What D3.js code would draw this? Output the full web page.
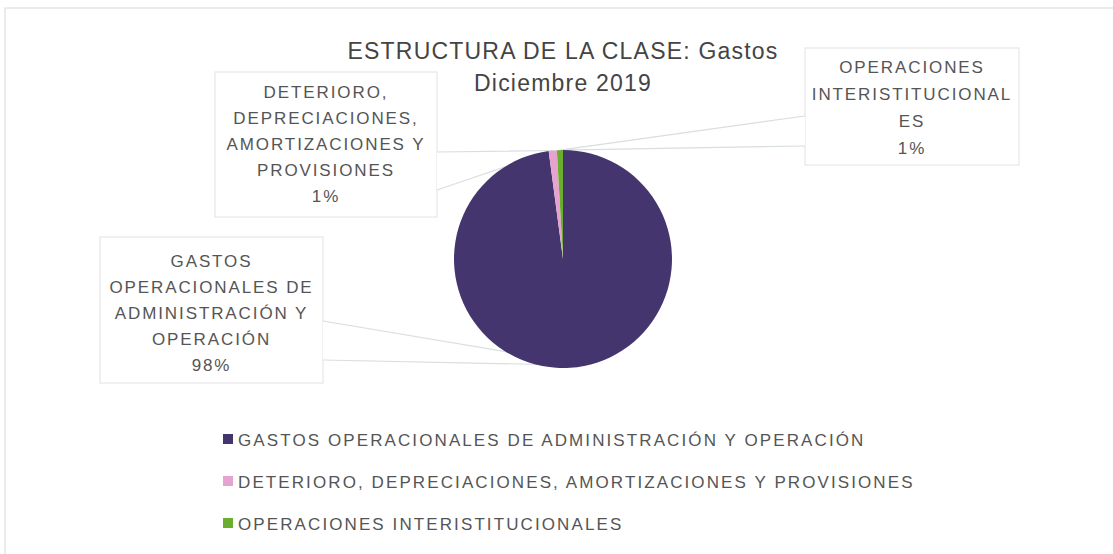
<!DOCTYPE html>
<html>
<head>
<meta charset="utf-8">
<script src="https://cdn.jsdelivr.net/npm/d3@7"></script>
<style>
  body { margin: 0; background: #fff; }
  text { font-family: "Liberation Sans", Arial, sans-serif; fill: #555; }
</style>
</head>
<body>
<svg></svg>
<script>
// canvas size
const w = 1113;
const h = 554;

// chart data
const categories = [
  "GASTOS OPERACIONALES DE ADMINISTRACIÓN Y OPERACIÓN",
  "DETERIORO, DEPRECIACIONES, AMORTIZACIONES Y PROVISIONES",
  "OPERACIONES INTERISTITUCIONALES"
];
const values = [97.9, 1.2, 0.9];
const percentLabels = ["98%", "1%", "1%"];
// label text as it wraps in each callout
const labelLines = [
  ["GASTOS", "OPERACIONALES DE", "ADMINISTRACIÓN Y", "OPERACIÓN"],
  ["DETERIORO,", "DEPRECIACIONES,", "AMORTIZACIONES Y", "PROVISIONES"],
  ["OPERACIONES", "INTERISTITUCIONAL", "ES"]
];
const colors = ["#45356f", "#e6a3cf", "#6aae2f"];
const titleLines = ["ESTRUCTURA DE LA CLASE: Gastos", "Diciembre 2019"];

const svg = d3.select("svg")
              .attr("width", w)
              .attr("height", h);

// faint chart border
svg.append("rect")
   .attr("x", 5).attr("y", 8)
   .attr("width", w + 10).attr("height", h + 10)
   .attr("fill", "none")
   .attr("stroke", "#d8d8d8");

// title
svg.append("text")
   .attr("x", 563)
   .attr("y", 59)
   .attr("text-anchor", "middle")
   .style("font-size", "23px")
   .style("letter-spacing", "1.2px")
   .style("fill", "#444")
   .selectAll("tspan")
   .data(titleLines)
   .enter()
   .append("tspan")
   .attr("x", 563)
   .attr("dy", (d, i) => i === 0 ? 0 : 32)
   .text(d => d);

// pie
const cx = 563, cy = 259, r = 109;
const pie = d3.pie().sort(null).value(d => d);
const arcs = pie(values);
const arc = d3.arc().innerRadius(0).outerRadius(r);

const g = svg.append("g").attr("transform", `translate(${cx},${cy})`);

// callout boxes and where the wedge leaves each box
const boxes = [
  { x: 100, y: 237, w: 223, h: 146, top: 321, bottom: 360, lineY: 267, step: 26 },
  { x: 215, y: 72,  w: 222, h: 145, top: 152, bottom: 190, lineY: 98,  step: 26 },
  { x: 805, y: 48,  w: 214, h: 117, top: 116, bottom: 146, lineY: 73,  step: 27 }
];

// point on the pie where each callout aims
function anchor(i) {
  const a = arcs[i];
  let ang;
  if (i === 0) ang = Math.PI * 0.93;           // bottom of the big slice
  else ang = (a.startAngle + a.endAngle) / 2;
  return [cx + Math.sin(ang) * r, cy - Math.cos(ang) * r];
}

// callouts drawn under the pie
boxes.forEach((b, i) => {
  const p = anchor(i);
  const rightSide = b.x > cx;
  const ex = rightSide ? b.x : b.x + b.w;
  svg.insert("path", "g")
     .attr("d", `M${ex},${b.top} L${p[0]},${p[1]} L${ex},${b.bottom}`)
     .attr("fill", "#fff")
     .attr("stroke", "#d9dede")
     .attr("stroke-width", 1.2);
  svg.insert("rect", "path")
     .attr("x", b.x).attr("y", b.y)
     .attr("width", b.w).attr("height", b.h)
     .attr("fill", "#fff")
     .attr("stroke", "#e2e2e2");

  const lines = labelLines[i].concat([percentLabels[i]]);
  const tx = b.x + b.w / 2;
  svg.append("text")
     .attr("x", tx)
     .attr("y", b.lineY)
     .attr("text-anchor", "middle")
     .style("font-size", "17px")
     .style("letter-spacing", "1.9px")
     .selectAll("tspan")
     .data(lines)
     .enter()
     .append("tspan")
     .attr("x", tx)
     .attr("dy", (d, j) => j === 0 ? 0 : b.step)
     .text(d => d);
});

g.selectAll("path")
 .data(arcs)
 .enter()
 .append("path")
 .attr("d", arc)
 .attr("fill", (d, i) => colors[i]);

// legend
const legend = svg.append("g");
const legendY = d3.scalePoint()
                  .domain(categories)
                  .range([440, 524]);
categories.forEach((c, i) => {
  const y = legendY(c);
  legend.append("rect")
        .attr("x", 223).attr("y", y - 6)
        .attr("width", 10).attr("height", 10)
        .attr("fill", colors[i]);
  legend.append("text")
        .attr("x", 238).attr("y", y + 6)
        .style("font-size", "17px")
        .style("letter-spacing", "2.1px")
        .text(c);
});
</script>
</body>
</html>
